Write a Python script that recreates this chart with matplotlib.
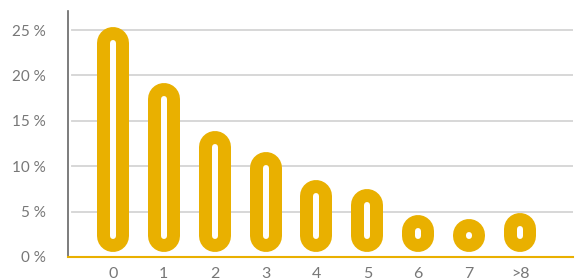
import matplotlib.pyplot as plt
import numpy as np

# datos
categorias = ["0", "1", "2", "3", "4", "5", "6", "7", ">8"]
valores = [25.3, 19.2, 13.9, 11.6, 8.5, 7.5, 4.6, 3.7, 4.8]
ticks_y = [0, 5, 10, 15, 20, 25]
etiquetas_y = ["0 %", "5 %", "10 %", "15 %", "20 %", "25 %"]

dorado = "#E9B000"
gris = "#777777"

fig = plt.figure(figsize=(5.82, 2.8), dpi=100)
ax = fig.add_axes([68 / 582, (280 - 257) / 280, (573 - 68) / 582, (257 - 11) / 280])

ax.set_xlim(-0.88, 9.04)
ax.set_ylim(0, 27.1)

# escala px -> datos
px_y = (257 - 11) / 27.1
ancho_ext = 32  # px
ancho_int = 6
radio = ancho_ext / 2 / px_y
base = (257 - 252) / px_y + radio

x = np.arange(len(categorias))
for xi, v in zip(x, valores):
    # longitud minima para que la capsula se dibuje como circulo
    tope = max(v - radio, base + 0.12)
    ax.plot([xi, xi], [base, tope], color=dorado, lw=ancho_ext * 0.72,
            solid_capstyle="round", zorder=3)
    ax.plot([xi, xi], [base, tope], color="white", lw=ancho_int * 0.72,
            solid_capstyle="round", zorder=4)

# rejilla
for t in ticks_y[1:]:
    ax.plot([-0.8, 9.04], [t, t], color="#d4d4d4", lw=1.3, zorder=1)

ax.set_xticks(x)
ax.set_xticklabels(categorias)
ax.set_yticks(ticks_y)
ax.set_yticklabels(etiquetas_y)
ax.tick_params(axis="both", length=0, colors=gris, labelsize=11)
ax.tick_params(axis="x", labelsize=11.5, pad=7)
ax.tick_params(axis="y", pad=16)
for lab in ax.get_xticklabels() + ax.get_yticklabels():
    lab.set_family(["Lato", "DejaVu Sans"])

for s in ["top", "right"]:
    ax.spines[s].set_visible(False)
ax.spines["left"].set_color("#666666")
ax.spines["left"].set_linewidth(1.2)
ax.spines["bottom"].set_color(dorado)
ax.spines["bottom"].set_linewidth(1.5)

fig.savefig("out.png", dpi=100)
